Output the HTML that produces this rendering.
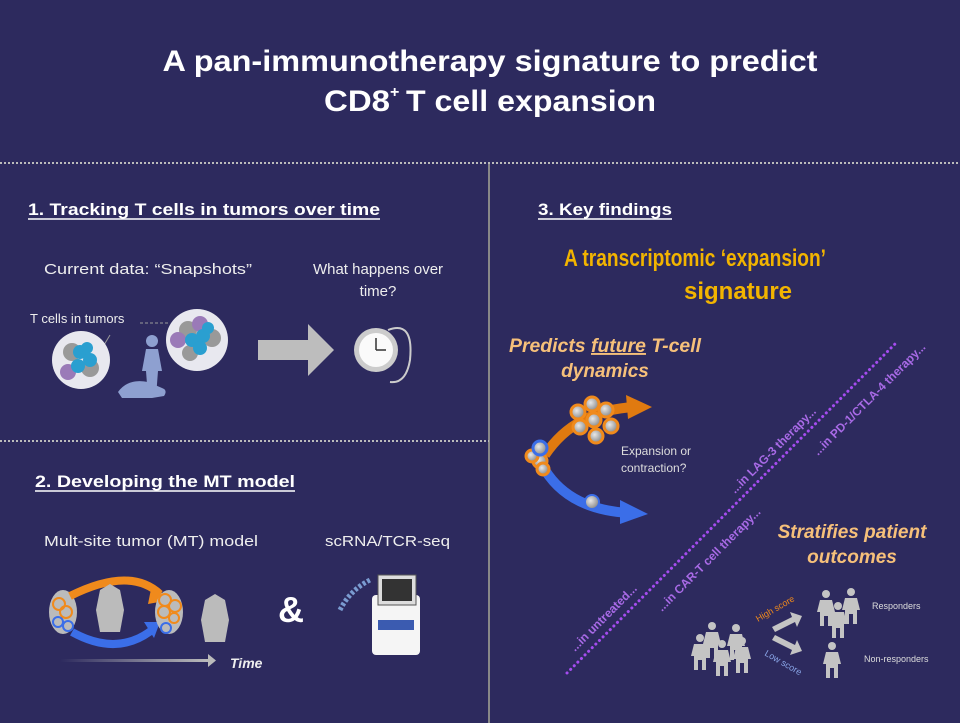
<!DOCTYPE html>
<html><head><meta charset="utf-8"><style>
html,body{margin:0;padding:0;background:#2d2a5e;}
svg{display:block;font-family:"Liberation Sans",sans-serif;}
</style></head><body>
<svg width="960" height="723" viewBox="0 0 960 723" xmlns="http://www.w3.org/2000/svg">
<defs>
<radialGradient id="cell" cx="40%" cy="40%" r="60%"><stop offset="0" stop-color="#e8e8e8"/><stop offset="1" stop-color="#8a8a8a"/></radialGradient>
<linearGradient id="fade" x1="0" x2="1"><stop offset="0" stop-color="#2d2a5e"/><stop offset="1" stop-color="#bdbdbd"/></linearGradient>
<g id="p"><circle cx="0" cy="-14" r="4"/><path d="M-6 -8 h12 l3 12 h-3 v14 h-4 v-10 h-4 v10 h-4 v-14 h-3 z"/></g>
</defs>
<rect width="960" height="723" fill="#2d2a5e"/>
<g fill="#fff" font-weight="bold" font-size="30">
<text x="490" y="71" text-anchor="middle" textLength="655" lengthAdjust="spacingAndGlyphs">A pan-immunotherapy signature to predict</text>
<text x="324" y="111" textLength="66" lengthAdjust="spacingAndGlyphs">CD8</text>
<text x="390" y="97" font-size="16">+</text>
<text x="406" y="111" textLength="250" lengthAdjust="spacingAndGlyphs">T cell expansion</text>
</g>
<line x1="0" y1="163" x2="960" y2="163" stroke="#bbb" stroke-width="2" stroke-dasharray="2 2"/>
<line x1="489" y1="164" x2="489" y2="723" stroke="#888" stroke-width="2"/>
<line x1="0" y1="441" x2="489" y2="441" stroke="#bbb" stroke-width="2" stroke-dasharray="2 2"/>
<g fill="#fff" font-weight="bold" font-size="17">
<text x="28" y="215" textLength="352" lengthAdjust="spacingAndGlyphs">1. Tracking T cells in tumors over time</text>
<line x1="28" y1="219" x2="380" y2="219" stroke="#fff" stroke-width="1.5"/>
<text x="538" y="215" textLength="134" lengthAdjust="spacingAndGlyphs">3. Key findings</text>
<line x1="538" y1="219" x2="672" y2="219" stroke="#fff" stroke-width="1.5"/>
<text x="35" y="487" textLength="260" lengthAdjust="spacingAndGlyphs">2. Developing the MT model</text>
<line x1="35" y1="491" x2="295" y2="491" stroke="#fff" stroke-width="1.5"/>
</g>
<g fill="#eee" font-size="15">
<text x="44" y="274" textLength="208" lengthAdjust="spacingAndGlyphs">Current data: “Snapshots”</text>
<text x="378" y="274" text-anchor="middle">What happens over</text>
<text x="378" y="296" text-anchor="middle">time?</text>
<text x="30" y="323" font-size="13">T cells in tumors</text>
<text x="44" y="546" textLength="214" lengthAdjust="spacingAndGlyphs">Mult-site tumor (MT) model</text>
<text x="325" y="546" textLength="125" lengthAdjust="spacingAndGlyphs">scRNA/TCR-seq</text>
<text x="230" y="668" font-weight="bold" font-style="italic" font-size="14">Time</text>
</g>
<g>
<line x1="140" y1="323" x2="170" y2="323" stroke="#999" stroke-dasharray="3 2"/>
<line x1="110" y1="335" x2="95" y2="360" stroke="#999"/>
<circle cx="81" cy="360" r="29" fill="#e8e8ef"/>
<circle cx="72" cy="352" r="9" fill="#999"/><circle cx="90" cy="368" r="9" fill="#999"/>
<circle cx="68" cy="372" r="8" fill="#9a7ab8"/>
<circle cx="80" cy="352" r="7" fill="#2a9fd0"/><circle cx="90" cy="360" r="7" fill="#2a9fd0"/><circle cx="78" cy="366" r="7" fill="#2a9fd0"/><circle cx="87" cy="348" r="6" fill="#2a9fd0"/>
<circle cx="197" cy="340" r="31" fill="#e8e8ef"/>
<circle cx="188" cy="330" r="9" fill="#999"/><circle cx="212" cy="338" r="9" fill="#999"/><circle cx="190" cy="353" r="8" fill="#999"/>
<circle cx="178" cy="340" r="8" fill="#9a7ab8"/><circle cx="200" cy="324" r="8" fill="#9a7ab8"/>
<circle cx="192" cy="340" r="7" fill="#2a9fd0"/><circle cx="203" cy="336" r="7" fill="#2a9fd0"/><circle cx="200" cy="348" r="7" fill="#2a9fd0"/><circle cx="208" cy="328" r="6" fill="#2a9fd0"/>
<path d="M118 392 q10 -14 30 -10 l14 6 q6 2 2 8 l-12 2 l-30 0 z" fill="#8ea0d0"/>
<circle cx="152" cy="341" r="6" fill="#8ea0d0"/>
<path d="M146 349 h12 l4 22 l-4 0 l-2 26 h-8 l-2 -26 l-4 0 z" fill="#8ea0d0"/>
<path d="M258 340 h50 v-16 l26 26 l-26 26 v-16 h-50 z" fill="#bdbdbd"/>
<circle cx="376" cy="350" r="22" fill="#ccc"/><circle cx="376" cy="350" r="17" fill="#fafafa"/>
<line x1="376" y1="350" x2="376" y2="338" stroke="#333" stroke-width="1.5"/><line x1="376" y1="350" x2="386" y2="350" stroke="#333" stroke-width="1.5"/>
<path d="M388 330 q26 -10 22 30 q-4 24 -20 22" fill="none" stroke="#ccc" stroke-width="2"/>
</g>
<g>
<ellipse cx="63" cy="612" rx="14" ry="22" fill="#bbb"/>
<circle cx="59" cy="604" r="6" fill="none" stroke="#f08a1c" stroke-width="2"/><circle cx="66" cy="612" r="6" fill="none" stroke="#f08a1c" stroke-width="2"/>
<circle cx="58" cy="622" r="5" fill="none" stroke="#3b6ee8" stroke-width="2"/><circle cx="68" cy="626" r="5" fill="none" stroke="#3b6ee8" stroke-width="2"/>
<path d="M70 596 q60 -30 90 -2" fill="none" stroke="#f08a1c" stroke-width="8"/><path d="M152 584 l18 16 l-22 4 z" fill="#f08a1c"/>
<path d="M72 632 q45 25 80 -2" fill="none" stroke="#3b6ee8" stroke-width="8"/><path d="M144 622 l16 0 l-6 16 z" fill="#3b6ee8"/>
<path d="M100 590 l10 -6 l10 6 l4 20 l-4 22 l-20 0 l-4 -22 z" fill="#bbb"/>
<ellipse cx="169" cy="612" rx="14" ry="22" fill="#bbb"/>
<circle cx="165" cy="600" r="6" fill="none" stroke="#f08a1c" stroke-width="2"/><circle cx="175" cy="606" r="6" fill="none" stroke="#f08a1c" stroke-width="2"/><circle cx="164" cy="612" r="6" fill="none" stroke="#f08a1c" stroke-width="2"/><circle cx="174" cy="618" r="5" fill="none" stroke="#f08a1c" stroke-width="2"/><circle cx="166" cy="628" r="5" fill="none" stroke="#3b6ee8" stroke-width="2"/>
<path d="M205 600 l10 -6 l10 6 l4 20 l-4 22 l-20 0 l-4 -22 z" fill="#bbb"/>
<rect x="60" y="659" width="150" height="3" fill="url(#fade)"/><path d="M208 654 l8 6.5 l-8 6.5 z" fill="#bbb"/>
<text x="291" y="622" fill="#fff" font-size="36" font-weight="bold" text-anchor="middle">&amp;</text>
<path d="M340 610 q10 -20 30 -30" fill="none" stroke="#7a9bd0" stroke-width="5" stroke-dasharray="3 2"/>
<rect x="372" y="595" width="48" height="60" rx="4" fill="#f5f5f5"/><rect x="378" y="575" width="38" height="30" fill="#ddd" stroke="#555"/><rect x="382" y="579" width="30" height="22" fill="#333"/>
<rect x="378" y="620" width="36" height="10" fill="#3b5bb0"/>
</g>
<g font-weight="bold" text-anchor="middle">
<text x="695" y="266" fill="#f2b400" font-size="24" textLength="262" lengthAdjust="spacingAndGlyphs">A transcriptomic ‘expansion’</text>
<text x="738" y="299" fill="#f2b400" font-size="24">signature</text>
<g fill="#f6c07a" font-style="italic" font-size="19">
<text x="605" y="352" textLength="192" lengthAdjust="spacingAndGlyphs">Predicts <tspan text-decoration="underline">future</tspan> T-cell</text>
<text x="605" y="377">dynamics</text>
<text x="852" y="538">Stratifies patient</text>
<text x="852" y="563">outcomes</text>
</g>
</g>
<g>
<path d="M545 455 q30 -45 90 -48" fill="none" stroke="#e07a10" stroke-width="10"/><path d="M626 395 l26 12 l-24 12 z" fill="#e07a10"/>
<path d="M545 470 q25 40 85 43" fill="none" stroke="#3b6ee8" stroke-width="10"/><path d="M620 500 l28 14 l-28 10 z" fill="#3b6ee8"/>
<g fill="url(#cell)" stroke="#f08a1c" stroke-width="3">
<circle cx="578" cy="412" r="7"/><circle cx="592" cy="404" r="7"/><circle cx="606" cy="410" r="7"/><circle cx="580" cy="427" r="7"/><circle cx="594" cy="420" r="7"/><circle cx="611" cy="426" r="7"/><circle cx="596" cy="436" r="7"/>
<circle cx="540" cy="461" r="7"/><circle cx="532" cy="456" r="6"/><circle cx="543" cy="469" r="6"/>
</g>
<circle cx="540" cy="448" r="7" fill="url(#cell)" stroke="#3b6ee8" stroke-width="3"/>
<circle cx="592" cy="502" r="7" fill="url(#cell)" stroke="#3b6ee8" stroke-width="2"/>
<text x="621" y="455" fill="#ddd" font-size="12">Expansion or</text>
<text x="621" y="472" fill="#ddd" font-size="12">contraction?</text>
</g>
<line x1="567" y1="673" x2="897" y2="342" stroke="#a54cf0" stroke-width="3" stroke-dasharray="0.1 5" stroke-linecap="round"/>
<g fill="#a86ae6" font-size="12" font-weight="bold">
<text transform="translate(575,652) rotate(-45)">...in untreated...</text>
<text transform="translate(662,612) rotate(-45)">...in CAR-T cell therapy...</text>
<text transform="translate(735,494) rotate(-45)">...in LAG-3 therapy...</text>
<text transform="translate(818,456) rotate(-45)">...in PD-1/CTLA-4 therapy...</text>
</g>
<g fill="#c4c4c4">
<use href="#p" x="712" y="640"/><use href="#p" x="736" y="642"/><use href="#p" x="700" y="652"/><use href="#p" x="722" y="658"/><use href="#p" x="742" y="655"/>
<use href="#p" x="826" y="608"/><use href="#p" x="851" y="606"/><use href="#p" x="838" y="620"/>
<use href="#p" x="832" y="660"/>
<path d="M772 627 l20 -10 l-2 -5 l12 4 l-5 11 l-2 -5 l-20 10 z"/>
<path d="M772 640 l20 10 l-2 5 l12 -4 l-5 -11 l-2 5 l-20 -10 z"/>
</g>
<g font-size="9">
<text transform="translate(758,622) rotate(-30)" fill="#f08a1c">High score</text>
<text transform="translate(764,655) rotate(30)" fill="#8aa6e8">Low score</text>
<text x="872" y="609" fill="#ddd">Responders</text>
<text x="864" y="662" fill="#ddd">Non-responders</text>
</g>
</svg>
</body></html>
